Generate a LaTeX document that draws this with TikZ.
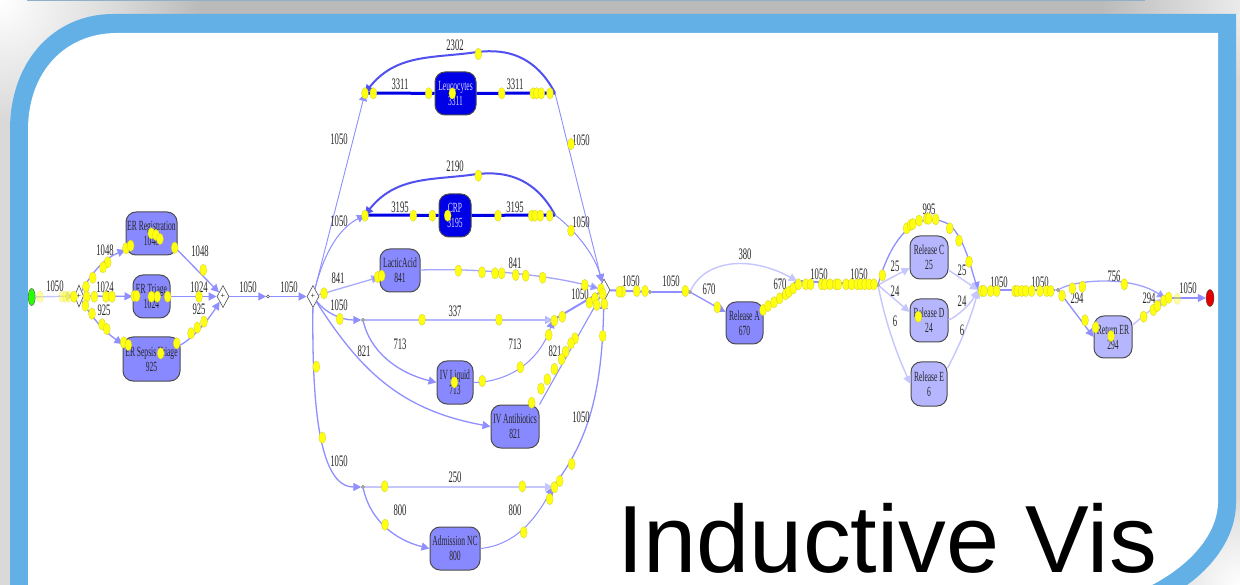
\documentclass[tikz,border=0pt]{standalone}
\usepackage{fontspec}
\setmainfont{Liberation Serif}
\newfontfamily\squeezed[FakeStretch=0.54]{Liberation Serif}
\newfontfamily\headfont{Liberation Sans}
\usetikzlibrary{shapes.geometric,arrows.meta,positioning}
\definecolor{framebl}{HTML}{62B0E6}
\definecolor{edgemid}{HTML}{8F8FFF}
\definecolor{edgelite}{HTML}{C6C6FF}
\definecolor{edgedark}{HTML}{0000E6}
\definecolor{edgeloop}{HTML}{5050F0}
\definecolor{nodemid}{HTML}{8888FF}
\definecolor{nodelite}{HTML}{B6B6FF}
\definecolor{tokeny}{HTML}{FFFF10}
\tikzset{
  x=1pt,y=-1pt,
  task/.style={draw=black!70,line width=1pt,rounded corners=10pt,inner sep=0pt,align=center,
    font=\squeezed\fontsize{14}{15}\selectfont,text=black!85,fill=nodemid},
  litetask/.style={task,fill=nodelite},
  darktask/.style={task,fill=edgedark,text=white!85!blue},
  gate/.style={diamond,draw=black!70,fill=white,line width=.6pt,inner sep=0pt,minimum width=12pt,minimum height=22pt,
    font=\fontsize{8}{8}\selectfont},
  tiny/.style={circle,draw=black!70,fill=white,line width=.5pt,inner sep=0pt,minimum size=3pt},
  tok/.style={ellipse,fill=tokeny,draw=yellow!75!black,line width=.2pt,inner sep=0pt,minimum width=7pt,minimum height=11.5pt},
  fadedtok/.style={tok,opacity=.4},
  lab/.style={font=\squeezed\fontsize{16}{16}\selectfont,text=black!85,inner sep=0pt},
  flow/.style={draw=edgemid,line width=1.3pt,-{Triangle[length=8pt,width=8pt,fill=edgemid]}},
  flowthin/.style={draw=edgemid,line width=1.1pt},
  fat/.style={draw=edgemid,line width=2pt},
  liteflow/.style={draw=edgelite,line width=1.4pt,-{Triangle[length=8pt,width=8pt,fill=edgelite]}},
  darkflow/.style={draw=edgedark,line width=3pt},
  loopflow/.style={draw=edgeloop,line width=2pt,-{Triangle[length=8pt,width=8pt,fill=edgeloop]}},
}
\newcommand{\putTokens}[5][tok]{\foreach \tx/\ty [count=\ti] in {#5} \node[#1] (#2\ti) at ({#3+\tx/3},{#4+\ty/3}) {};}
\newcommand{\putLabels}[1]{\foreach \lx/\ly/\lt [count=\li] in {#1} \node[lab] (lab\li) at (\lx,\ly) {\lt};}
\begin{document}
\begin{tikzpicture}
\useasboundingbox (0,0) rectangle (1240,585);
\clip (0,0) rectangle (1240,585);
% shadow behind the frame
\fill[black!15] (0,0) rectangle (1240,585);
\shade[inner color=white,outer color=black!15] (-120,-120) rectangle (120,120);
\shade[inner color=white!95!black,outer color=black!15] (1160,-80) rectangle (1320,80);
\shade[left color=black!15,right color=black!27] (120,0) rectangle (200,14);
\fill[black!27] (200,0) rectangle (1100,14);
\shade[left color=black!27,right color=black!8] (1100,0) rectangle (1240,14);
\shade[inner color=white,outer color=black!15] (1150,495) rectangle (1330,675);
\fill[framebl!70!black!60] (27,0) rectangle (1145,1.5);
% frame
\fill[framebl] (10,600) -- (10,130) .. controls (10,60) and (55,14) .. (113,14) -- (1236,14) -- (1236,503)
  .. controls (1236,535) and (1215,565) .. (1187,585) -- (1180,600) -- cycle;
\fill[white] (28,600) -- (28,130) .. controls (28,72) and (65,33) .. (117,33) -- (1218,33) -- (1218,503)
  .. controls (1217,535) and (1190,565) .. (1152,585) -- (1140,600) -- cycle;
% nodes
\node[ellipse,draw=black!70,fill=green!85!yellow,minimum width=7pt,minimum height=17pt,inner sep=0pt] (start) at (31.7,297) {};
\node[ellipse,draw=black!70,fill=red!90!black,minimum width=8pt,minimum height=17pt,inner sep=0pt] (finish) at (1210,298) {};
\node[gate,minimum width=9pt] (g1) at (79,296) {+};
\node[gate] (g2) at (223,296.5) {+};
\node[tiny] (s1) at (268,296.5) {};
\node[gate] (g3) at (313,296.5) {+};
\node[gate] (g4) at (604,290) {};
\node[tiny] (s2) at (363,320) {};
\node[tiny] (s3) at (363,487) {};
\node[tiny] (s4) at (650,292) {};
\node[tiny] (s5) at (690,292) {};
\node[tiny] (s6) at (878,285) {};
\node[tiny] (s7) at (1058,290) {};
\coordinate (leuL) at (365,93);
\coordinate (leuR) at (555,93);
\coordinate (crpL) at (365,215);
\coordinate (crpR) at (555,215);
\coordinate (j1) at (553,320);
\coordinate (j2) at (553,487);
\coordinate (j3) at (797,281);
\coordinate (j4) at (978,290);
\coordinate (j5) at (1165,298);
\node[task,minimum width=51pt,minimum height=43pt] (reg) at (151.5,233.5) {ER Registration\\1048};
\node[task,minimum width=37pt,minimum height=43pt] (tri) at (151.5,296.5) {ER Triage\\1024};
\node[task,minimum width=57pt,minimum height=44pt] (sep) at (151.5,359) {ER Sepsis Triage\\925};
\node[darktask,minimum width=41pt,minimum height=43pt] (leu) at (455.5,93.5) {Leucocytes\\3311};
\node[darktask,minimum width=32pt,minimum height=43pt] (crp) at (455,215.5) {CRP\\3195};
\node[task,minimum width=40pt,minimum height=43pt] (lac) at (400,270.5) {LacticAcid\\841};
\node[task,minimum width=36pt,minimum height=43pt] (ivl) at (455,382.5) {IV Liquid\\713};
\node[task,minimum width=48pt,minimum height=43pt] (iva) at (515,426.5) {IV Antibiotics\\821};
\node[task,minimum width=50pt,minimum height=43pt] (adm) at (455,548.5) {Admission NC\\800};
\node[task,minimum width=37pt,minimum height=42pt] (rela) at (744.5,323) {Release A\\670};
\node[litetask,minimum width=38pt,minimum height=43pt] (relc) at (929,257.5) {Release C\\25};
\node[litetask,minimum width=38pt,minimum height=43pt] (reld) at (929,320.5) {Release D\\24};
\node[litetask,minimum width=36pt,minimum height=44pt] (rele) at (929,384) {Release E\\6};
\node[litetask,minimum width=38pt,minimum height=42pt] (ret) at (1113,337) {Return ER\\294};
% connectors
\draw[liteflow] (start) -- (g1);
\draw[flow] (g1) .. controls (92,272) and (105,258) .. (reg.west|-0,250);
\draw[flow] (g1) -- (tri);
\draw[flow] (g1) .. controls (92,318) and (105,332) .. (sep.west|-0,344);
\draw[flow] (reg.east|-0,250) -- (g2);
\draw[flow] (tri) -- (g2);
\draw[flow] (sep.east|-0,345) .. controls (190,340) and (205,325) .. (g2);
\draw[flow] (g2) -- (s1);
\draw[flow] (s1) -- (g3);
\draw[flow,line width=.9pt] (g3) -- (leuL);
\draw[flow,line width=1pt] (g3) .. controls (325,250) and (340,228) .. (crpL);
\draw[flow,draw=edgemid!75!white] (g3) -- (lac.west|-0,277);
\draw[flow] (g3) .. controls (325,312) and (340,320) .. (s2);
\draw[flow] (g3) .. controls (360,370) and (400,410) .. (iva.west);
\draw[flow] (g3) .. controls (312,400) and (318,487) .. (s3);
\draw[darkflow] (leuL) -- (leu);
\draw[darkflow] (leu) -- (leuR);
\draw[loopflow] (leuR) .. controls (530,45) and (490,50) .. (470,53) .. controls (430,58) and (395,55) .. (leuL);
\draw[flow,line width=.9pt] (leuR) -- (g4);
\draw[darkflow] (crpL) -- (crp);
\draw[darkflow] (crp) -- (crpR);
\draw[loopflow] (crpR) .. controls (530,168) and (490,172) .. (470,175) .. controls (430,180) and (395,177) .. (crpL);
\draw[flow,line width=1pt] (crpR) .. controls (575,230) and (595,255) .. (g4);
\draw[flow,draw=edgemid!80!white] (lac.east|-0,270) .. controls (480,268) and (550,275) .. (g4);
\draw[liteflow,draw=edgemid!65!white] (s2) -- (j1);
\draw[flow] (s2) .. controls (370,350) and (395,372) .. (ivl.west);
\draw[flow,line width=1pt] (ivl.east) .. controls (510,382) and (540,360) .. (j1);
\draw[fat] (j1) -- (g4);
\draw[flowthin] (iva.north east) -- (g4);
\draw[liteflow,line width=1.8pt] (s3) -- (j2);
\draw[flow] (s3) .. controls (370,520) and (395,540) .. (adm.west);
\draw[flow,line width=1pt] (adm.east) .. controls (515,545) and (535,520) .. (j2);
\draw[flow] (j2) .. controls (585,445) and (602,400) .. (g4);
\draw[fat] (g4) -- (s4);
\draw[fat] (s4) -- (s5);
\draw[flow] (s5) -- (rela.west|-0,312);
\draw[liteflow] (s5) .. controls (705,260) and (750,255) .. (j3);
\draw[fat] (rela.east|-0,312) -- (j3);
\draw[fat] (j3) -- (s6);
\draw[flow] (s6) .. controls (895,225) and (925,210) .. (950,225) .. controls (965,240) and (970,265) .. (j4);
\draw[liteflow] (s6) -- (relc.west|-0,268);
\draw[liteflow] (s6) -- (reld.west|-0,312);
\draw[liteflow] (s6) .. controls (885,320) and (895,350) .. (rele.west);
\draw[liteflow] (relc.east|-0,270) -- (j4);
\draw[liteflow] (reld.east|-0,320) .. controls (955,318) and (970,305) .. (j4);
\draw[liteflow] (rele.east|-0,368) .. controls (960,345) and (972,315) .. (j4);
\draw[flow] (j4) -- (s7);
\draw[flow,draw=edgemid!85!white] (s7) .. controls (1075,280) and (1130,275) .. (j5);
\draw[flow] (s7) -- (ret.west);
\draw[liteflow] (ret.east|-0,325) -- (j5);
\draw[flow] (j5) -- (finish);
% labels
\putLabels{55/286/1050,105/250/1048,105/287/1024,104/310/925,200/251/1048,199/287/1024,199/309/925,248/287/1050,289/287/1050,
455/45/2302,400/84/3311,515/84/3311,339/139/1050,581/140/1050,455/166/2190,400/207/3195,515/207/3195,339/221/1050,581/222/1050,
338/278/841,515/263/841,580/294/1050,339/305/1050,455/311/337,400/344/713,515/344/713,364/351/821,555/351/821,581/417/1050,
339/461/1050,455/477/250,400/510/800,515/510/800,631/281/1050,671/281/1050,745/254/380,709/289/670,780/284/670,819/274/1050,859/274/1050,
929/209/995,895/266/25,895/291/24,895/321/6,962/270/25,962/301/24,962/330/6,999/282/1050,1040/282/1050,1114/276/756,1077/298/294,1149/298/294,1188/288/1050}
% tokens
\putTokens[fadedtok]{ff}{0}{180}{{120/350},{187/350},{198/350},{207/350}}
\putTokens[fadedtok]{fg}{880}{200}{{892/296}}
\putTokens{ta}{0}{180}{378/205,392/197,454/160,468/165,480/177,524/203,323/247,309/262,278/293,258/320,260/350,283/350,256/377,276/401,306/433,320/447,318/350,336/350,403/348,410/348,454/350,472/350,503/350,610/270,597/350,612/425,592/443,573/460,530/490,482/520,371/487,385/495,222/350}
\putTokens{tb}{310}{30}{505/72,165/190,190/190,356/190,427/190,575/190,670/190,680/190,694/190,720/190,783/342,505/437,165/557,310/557,367/557,413/557,564/557,665/557,675/557,691/557,719/557,783/602,42/790,203/741,215/737,445/722,516/727,555/730,575/730,617/735,647/737,698/743,824/765,873/778,878/792,855/805,937/785,928/785}
\putTokens{tc}{310}{290}{89/87,336/89,567/89,733/92,757/80,716/135,838/38,855/25,860/45,883/42,878/138,631/232,517/273,433/277,795/145,783/160,767/185,755/208,733/237,712/268,693/296,665/338,19/230,37/443,224/589,637/589,785/522,749/573,733/592,719/627,641/727,225/704}
\putTokens{td}{590}{200}{140/273,165/273,286/273,382/322,519/330,534/318,552/307,569/295,587/283,597/275,610/265,625/253,647/253,662/253,695/253,705/253,720/253,738/253,745/253,768/253,785/253,802/253,812/253,825/253,838/253,852/253,877/226}
\putTokens{te}{880}{200}{80/85,92/75,98/72,117/62,140/56,146/56,167/58,209/85,237/122,267/185,115/350,305/273,312/273,332/273,350/273,405/273,412/273,425/273,437/273,455/273,480/273,500/273,512/273,577/265,607/260,546/287,733/253,615/361,647/382,693/408,791/350,820/330,832/318,852/302,866/293}
% title
\node[anchor=base west,inner sep=0pt,font=\headfont\fontsize{95.5}{96}\selectfont,text=black] (title) at (617,572) {Inductive Vis};
\end{tikzpicture}
\end{document}
